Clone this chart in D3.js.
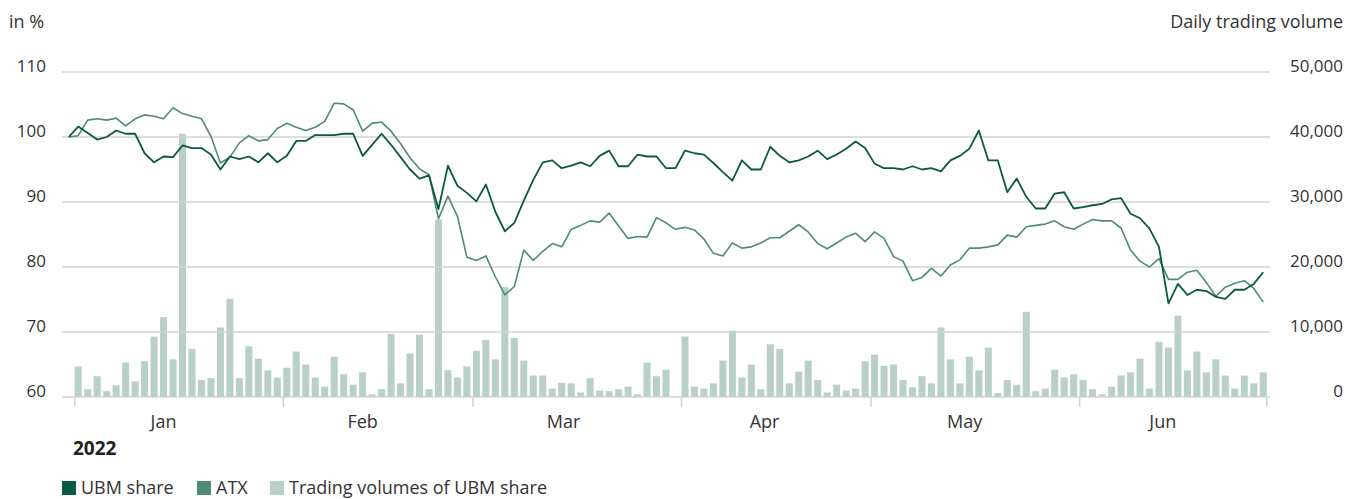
<!DOCTYPE html>
<html>
<head>
<meta charset="utf-8">
<script src="https://cdn.jsdelivr.net/npm/d3@7"></script>
<style>
  body { margin: 0; background: #fff; }
  svg { display: block; font-family: "Open Sans", sans-serif; }
</style>
</head>
<body>
<div id="chart"></div>
<script>
// Indexed share price (day 0 = base 100), one value per trading day
const ubmShare = [
    100, 101.6, 100.6, 99.6, 100.0, 101.0, 100.5, 100.5, 97.5, 96.1,
    97.0, 96.9, 98.7, 98.3, 98.3, 97.3, 95.0, 97.0, 96.6, 97.0,
    96.1, 97.5, 96.1, 97.1, 99.4, 99.4, 100.3, 100.3, 100.3, 100.5,
    100.5, 97.1, 98.8, 100.5, 98.8, 96.9, 95.0, 93.6, 94.1, 88.9,
    95.6, 92.5, 91.4, 90.1, 92.7, 88.5, 85.5, 86.8, 90.2, 93.4,
    96.1, 96.4, 95.2, 95.6, 96.1, 95.5, 97.1, 97.9, 95.5, 95.5,
    97.3, 97.0, 97.0, 95.2, 95.2, 97.9, 97.5, 97.3, 96.0, 94.6,
    93.3, 96.4, 95.0, 95.0, 98.5, 97.1, 96.1, 96.4, 97.0, 97.9,
    96.6, 97.3, 98.2, 99.3, 98.3, 95.9, 95.2, 95.2, 95.0, 95.5,
    95.0, 95.2, 94.7, 96.4, 97.1, 98.2, 101.0, 96.4, 96.4, 91.5,
    93.6, 90.8, 89.0, 89.0, 91.3, 91.5, 89.0, 89.2, 89.5, 89.7,
    90.4, 90.6, 88.2, 87.5, 85.9, 83.1, 74.4, 77.4, 75.7, 76.5,
    76.3, 75.4, 75.1, 76.5, 76.5, 77.4, 79.2
];

const atxIndex = [
    100, 100.2, 102.6, 102.8, 102.6, 102.9, 101.7, 102.8, 103.4, 103.2,
    102.8, 104.5, 103.6, 103.2, 102.8, 100.1, 96.0, 96.9, 99.1, 100.2,
    99.4, 99.6, 101.3, 102.1, 101.5, 101.0, 101.5, 102.4, 105.2, 105.1,
    104.2, 100.9, 102.1, 102.3, 100.9, 99.0, 96.8, 95.1, 94.2, 87.4,
    90.9, 87.8, 81.5, 81.0, 81.7, 78.5, 75.7, 77.0, 82.6, 81.0,
    82.4, 83.6, 83.1, 85.8, 86.4, 87.1, 86.9, 88.3, 86.3, 84.4,
    84.7, 84.6, 87.6, 86.8, 85.8, 86.1, 85.7, 84.3, 82.1, 81.7,
    83.7, 82.9, 83.1, 83.7, 84.5, 84.5, 85.5, 86.5, 85.4, 83.6,
    82.8, 83.7, 84.6, 85.2, 83.9, 85.4, 84.4, 81.6, 80.9, 77.9,
    78.4, 79.8, 78.6, 80.3, 81.1, 82.9, 82.9, 83.1, 83.4, 84.9,
    84.6, 86.2, 86.4, 86.6, 87.1, 86.2, 85.8, 86.6, 87.3, 87.1,
    87.1, 86.0, 82.6, 80.9, 80.0, 81.3, 78.1, 78.1, 79.2, 79.5,
    77.6, 75.5, 76.9, 77.5, 77.9, 76.7, 74.6
];

// Daily trading volume of the UBM share, trading days 1..126
const volumes = [
    4700, 1200, 3200, 900, 1800, 5300, 2400, 5500, 9300, 12300,
    5800, 40500, 7400, 2600, 2900, 10700, 15100, 2900, 7800, 5900,
    4100, 3000, 4500, 7000, 5000, 3000, 1600, 6200, 3500, 1900,
    3800, 400, 1200, 9700, 2100, 6700, 9600, 1200, 27300, 4100,
    3000, 4700, 7100, 8800, 5800, 16900, 9100, 5600, 3300, 3300,
    1300, 2200, 2100, 700, 2900, 1000, 900, 1200, 1600, 400,
    5300, 3200, 4200, 100, 9300, 1600, 1300, 2100, 5600, 10200,
    3000, 5000, 1200, 8100, 7400, 2100, 3900, 5600, 2600, 700,
    1900, 1000, 1300, 5500, 6500, 4800, 5000, 2600, 1500, 3200,
    2100, 10700, 5800, 2100, 6200, 4100, 7600, 600, 2600, 1900,
    13100, 900, 1300, 4200, 3000, 3500, 2600, 1200, 400, 1600,
    3300, 3800, 5900, 1300, 8500, 7600, 12500, 4100, 7000, 3800,
    5800, 3300, 1300, 3300, 2100, 3800
];

// Month labels, trading day where each month starts, and label anchor (day index)
const months = ["Jan", "Feb", "Mar", "Apr", "May", "Jun"];
const monthStarts = [1, 23, 43, 65, 85, 107];
const monthLabelDays = [10, 31, 52.2, 73.4, 94.5, 115.4];

const leftTicks = [60, 70, 80, 90, 100, 110];
const rightTicks = [0, 10000, 20000, 30000, 40000, 50000];

const colors = { ubm: "#0b5843", atx: "#4f8b79", vol: "#b9d0c8", grid: "#d3d3d3", text: "#333" };

const width = 1355, height = 499;
const plot = { left: 62, right: 1270, top: 72, bottom: 397 };

const svg = d3.select("#chart")
    .append("svg")
    .attr("width", width)
    .attr("height", height);

// x: one band per trading day (day 0 is the base day with no bar)
const days = d3.range(ubmShare.length);
const xBand = d3.scaleBand()
    .domain(days)
    .range([64, 1268])
    .paddingInner(0.26)
    .paddingOuter(0.13);
const bw = xBand.bandwidth();
const xMid = d3.scaleLinear()
    .domain([0, days.length - 1])
    .range([xBand(0) + bw / 2, xBand(days.length - 1) + bw / 2]);

const yLeft = d3.scaleLinear().domain([60, 110]).range([plot.bottom, plot.top]);
const yRight = d3.scaleLinear().domain([0, 50000]).range([plot.bottom, plot.top]);

// Bars for volume
svg.append("g")
    .selectAll("rect")
    .data(volumes)
    .join("rect")
    .attr("x", (d, i) => xBand(i + 1))
    .attr("y", d => yRight(d))
    .attr("width", bw)
    .attr("height", d => plot.bottom - yRight(d))
    .attr("fill", colors.vol);

// Gridlines
svg.append("g")
    .selectAll("line")
    .data(leftTicks)
    .join("line")
    .attr("x1", plot.left)
    .attr("x2", plot.right)
    .attr("y1", d => yLeft(d))
    .attr("y2", d => yLeft(d))
    .attr("stroke", colors.grid)
    .attr("stroke-width", 1.5);

// Left axis labels
svg.append("g")
    .selectAll("text")
    .data(leftTicks)
    .join("text")
    .attr("x", 46)
    .attr("y", d => yLeft(d))
    .attr("text-anchor", "end")
    .attr("fill", colors.text)
    .style("font-size", "17px")
    .text(d => d);

// Right axis labels
svg.append("g")
    .selectAll("text")
    .data(rightTicks)
    .join("text")
    .attr("x", 1343)
    .attr("y", d => yRight(d))
    .attr("text-anchor", "end")
    .attr("fill", colors.text)
    .style("font-size", "17px")
    .text(d => d3.format(",")(d));

svg.append("text")
    .attr("x", 9).attr("y", 28)
    .attr("fill", colors.text)
    .style("font-size", "18px")
    .text("in %");

svg.append("text")
    .attr("x", 1343).attr("y", 28)
    .attr("text-anchor", "end")
    .attr("fill", colors.text)
    .style("font-size", "18px")
    .text("Daily trading volume");

// Month ticks (start of each month and end of the period)
const tickX = monthStarts.map(i => xBand(i)).concat([xBand(days.length - 1) + bw]);
svg.append("g")
    .selectAll("line")
    .data(tickX)
    .join("line")
    .attr("x1", d => d).attr("x2", d => d)
    .attr("y1", plot.bottom).attr("y2", plot.bottom + 10)
    .attr("stroke", colors.grid)
    .attr("stroke-width", 1.5);

svg.append("g")
    .selectAll("text")
    .data(months)
    .join("text")
    .attr("x", (d, i) => xMid(monthLabelDays[i]))
    .attr("y", 428)
    .attr("text-anchor", "middle")
    .attr("fill", colors.text)
    .style("font-size", "18px")
    .text(d => d);

svg.append("text")
    .attr("x", 73).attr("y", 455)
    .attr("fill", "#222")
    .style("font-size", "19px")
    .style("font-weight", "bold")
    .text("2022");

// Lines
const line = d3.line()
    .x((d, i) => xMid(i))
    .y(d => yLeft(d));

svg.append("path")
    .datum(atxIndex)
    .attr("fill", "none")
    .attr("stroke", colors.atx)
    .attr("stroke-width", 1.6)
    .attr("stroke-linejoin", "round")
    .attr("d", line);

svg.append("path")
    .datum(ubmShare)
    .attr("fill", "none")
    .attr("stroke", colors.ubm)
    .attr("stroke-width", 1.8)
    .attr("stroke-linejoin", "round")
    .attr("d", line);

// Legend
const legendItems = [
    { label: "UBM share", color: colors.ubm },
    { label: "ATX", color: colors.atx },
    { label: "Trading volumes of UBM share", color: colors.vol }
];
const legendX = [62, 197, 270];
const legend = svg.append("g");
legendItems.forEach((d, i) => {
    legend.append("rect")
        .attr("x", legendX[i]).attr("y", 481)
        .attr("width", 14).attr("height", 14)
        .attr("fill", d.color);
    legend.append("text")
        .attr("x", legendX[i] + 19).attr("y", 494)
        .attr("fill", colors.text)
        .style("font-size", "18px")
        .text(d.label);
});
</script>
</body>
</html>
